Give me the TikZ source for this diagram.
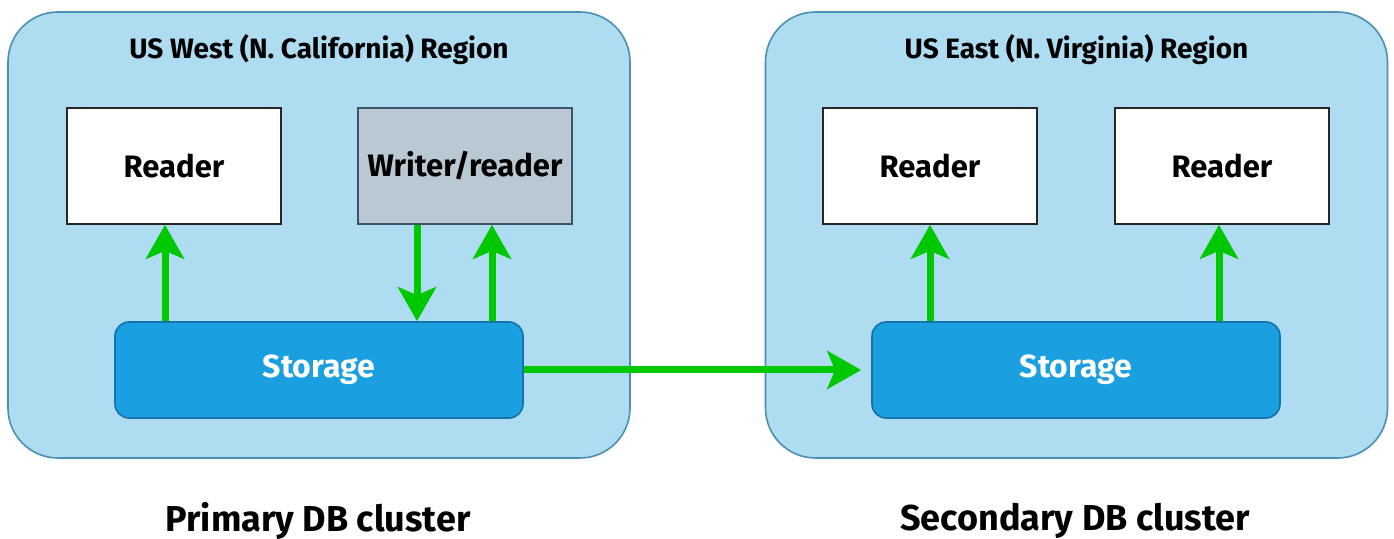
\documentclass[tikz,border=0pt]{standalone}
\usepackage{fontspec}
\setmainfont{Fira Sans}
\usetikzlibrary{calc, arrows.meta}
\definecolor{regionfill}{HTML}{AEDCF0}
\definecolor{regionline}{HTML}{4B8FB5}
\definecolor{storefill}{HTML}{1A9FE0}
\definecolor{storeline}{HTML}{1572AD}
\definecolor{writerfill}{HTML}{BAC8D3}
\definecolor{writerline}{HTML}{3D5468}
\definecolor{flowgreen}{HTML}{00C800}

\begin{document}
\begin{tikzpicture}[x=0.5pt,y=-0.5pt,
    region/.style={draw=regionline, fill=regionfill, line width=0.8pt, rounded corners=25pt,
      minimum width=311pt, minimum height=223pt, inner sep=0pt},
    readerbox/.style={draw=black!85, fill=white, line width=0.8pt,
      minimum width=107pt, minimum height=58pt, inner sep=0pt, font=\fontsize{15.5}{17}\selectfont\bfseries},
    writerbox/.style={readerbox, draw=writerline, fill=writerfill},
    storebox/.style={draw=storeline, fill=storefill, line width=0.8pt, rounded corners=7pt,
      minimum width=204pt, minimum height=48pt, inner sep=0pt, text=white,
      font=\fontsize{16}{18}\selectfont\bfseries},
    title/.style={font=\fontsize{14}{16}\selectfont\bfseries},
    caption/.style={font=\fontsize{18}{20}\selectfont\bfseries},
    flow/.style={draw=flowgreen, line width=3.5pt, -{Stealth[length=17pt,width=19pt,inset=4pt]}}]
    \useasboundingbox (0,0) rectangle (1394,539);
    % regions
    \node[region] (west) at (319,235) {};
    \node[region] (east) at (1076.5,235) {};
    \node[title] (westtitle) at (319,50) {US West (N. California) Region};
    \node[title] (easttitle) at (1076.5,50) {US East (N. Virginia) Region};
    % instances
    \node[readerbox] (readerW) at (174,166) {Reader};
    \node[writerbox] (writerW) at (465,166) {Writer/reader};
    \node[readerbox] (readerE1) at (930,166) {Reader};
    \node[readerbox] (readerE2) at (1222,166) {Reader};
    % storage
    \node[storebox] (storeW) at (319,370) {Storage};
    \node[storebox] (storeE) at (1076,370) {Storage};
    % vertical arrows
    \draw[flow] ([xshift=-4.5pt]readerW.south |- storeW.north) -- ([xshift=-4.5pt]readerW.south);
    \draw[flow] ([xshift=-24pt]writerW.south) -- ([xshift=-24pt]writerW.south |- storeW.north);
    \draw[flow] ([xshift=13.5pt]writerW.south |- storeW.north) -- ([xshift=13.5pt]writerW.south);
    \draw[flow] (readerE1.south |- storeE.north) -- (readerE1.south);
    \draw[flow] ([xshift=-1.5pt]readerE2.south |- storeE.north) -- ([xshift=-1.5pt]readerE2.south);
    % replication
    \draw[flow, shorten >=5pt] (storeW.east) -- (storeE.west);
    % captions
    \node[caption] (primary) at (318,521) {Primary DB cluster};
    \node[caption] (secondary) at (1075,521) {Secondary DB cluster};
  \end{tikzpicture}
\end{document}
